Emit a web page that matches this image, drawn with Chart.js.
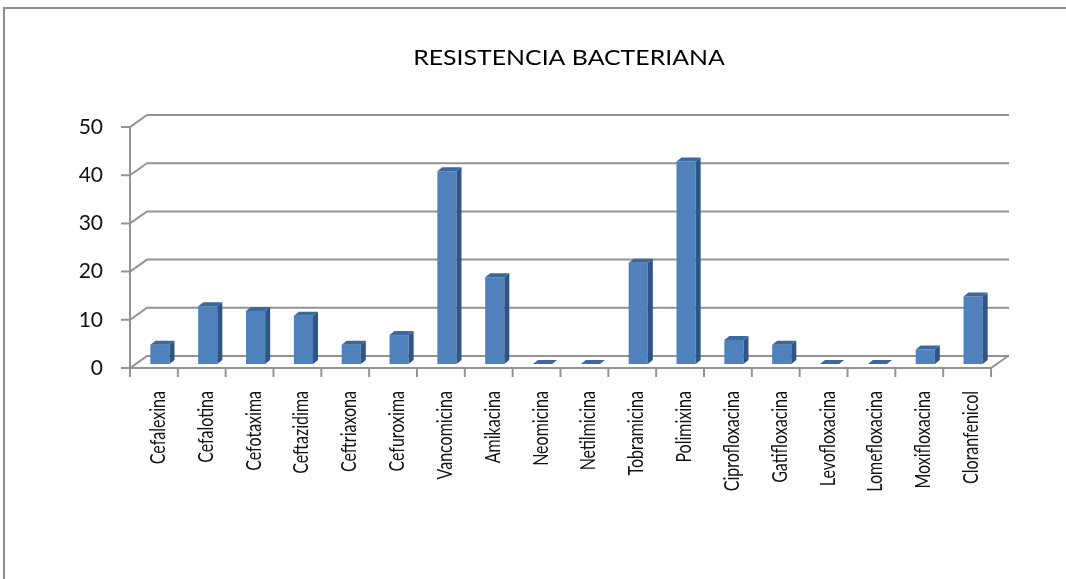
<!DOCTYPE html>
<html>
<head>
<meta charset="utf-8">
<script src="https://cdn.jsdelivr.net/npm/chart.js@4.4.0/dist/chart.umd.min.js"></script>
<style>
    html, body { margin: 0; padding: 0; background: #fff; }
    #wrap { width: 1066px; height: 579px; }
</style>
</head>
<body>
<div id="wrap"><canvas id="chart"></canvas></div>
<script>
const categories = [
    'Cefalexina', 'Cefalotina', 'Cefotaxima', 'Ceftazidima', 'Ceftriaxona', 'Cefuroxima',
    'Vancomicina', 'Amikacina', 'Neomicina', 'Netilmicina', 'Tobramicina', 'Polimixina',
    'Ciprofloxacina', 'Gatifloxacina', 'Levofloxacina', 'Lomefloxacina', 'Moxifloxacina', 'Cloranfenicol',
];
const resistance = [4, 12, 11, 10, 4, 6, 40, 18, 0, 0, 21, 42, 5, 4, 0, 0, 3, 14];
const yTicks = [0, 10, 20, 30, 40, 50];
const titleText = 'RESISTENCIA BACTERIANA';

// fake 3D look, like the old office chart
const wallOffset = { x: 17, y: -12 };
const barShift = { x: 6, y: -4 };
const barDepth = { x: 5, y: -4 };
const lineColor = '#939393';

const frame3d = {
    id: 'frame3d',
    beforeDraw(chart) {
        const { ctx, chartArea } = chart;
        ctx.save();
        ctx.fillStyle = '#fff';
        ctx.fillRect(0, 0, chart.width, chart.height);
        // outer frame (only left and top show in the picture)
        ctx.strokeStyle = '#8c8c8c';
        ctx.lineWidth = 2;
        ctx.beginPath();
        ctx.moveTo(4, chart.height);
        ctx.lineTo(4, 8);
        ctx.lineTo(chart.width, 8);
        ctx.stroke();
        // title, a bit wide like the source
        ctx.fillStyle = '#000';
        ctx.font = '22px Lato';
        ctx.textAlign = 'center';
        ctx.textBaseline = 'middle';
        ctx.translate((chartArea.left + chartArea.right + wallOffset.x) / 2, 58);
        ctx.scale(1.13, 1);
        ctx.fillText(titleText, 0, 0);
        ctx.restore();
    },
    beforeDatasetsDraw(chart) {
        const { ctx, chartArea, scales } = chart;
        const { left, right } = chartArea;
        const y = scales.y;
        const x = scales.x;
        const y0 = y.getPixelForValue(0);
        ctx.save();
        ctx.strokeStyle = lineColor;
        ctx.lineWidth = 2;
        ctx.lineCap = 'square';
        ctx.beginPath();
        yTicks.forEach((v) => {
            const py = y.getPixelForValue(v);
            ctx.moveTo(left, py);
            ctx.lineTo(left + wallOffset.x, py + wallOffset.y);
            ctx.lineTo(right + wallOffset.x, py + wallOffset.y);
            ctx.moveTo(left - 8, py);
            ctx.lineTo(left, py);
        });
        ctx.moveTo(right, y0);
        ctx.lineTo(right + wallOffset.x, y0 + wallOffset.y);
        ctx.moveTo(left, y.getPixelForValue(50));
        ctx.lineTo(left, y0);
        ctx.lineTo(right, y0);
        const step = (right - left) / categories.length;
        for (let i = 0; i <= categories.length; i++) {
            const px = left + i * step;
            ctx.moveTo(px, y0);
            ctx.lineTo(px, y0 + 8);
        }
        ctx.stroke();

        // category labels, vertical and a little stretched sideways
        ctx.fillStyle = '#111';
        ctx.font = '16px Lato';
        ctx.textAlign = 'right';
        ctx.textBaseline = 'middle';
        categories.forEach((name, i) => {
            ctx.save();
            ctx.translate(x.getPixelForValue(i) + 4, y0 + 23);
            ctx.rotate(-Math.PI / 2);
            ctx.scale(1, 1.35);
            ctx.fillText(name, 0, 0);
            ctx.restore();
        });
        ctx.restore();

        ctx.save();
        ctx.translate(barShift.x, barShift.y);
    },
    afterDatasetsDraw(chart) {
        const { ctx } = chart;
        const meta = chart.getDatasetMeta(0);
        meta.data.forEach((bar) => {
            const { x, y, base, width } = bar.getProps(['x', 'y', 'base', 'width'], true);
            const l = x - width / 2;
            const r = x + width / 2;
            ctx.fillStyle = '#2f5486';
            ctx.beginPath();
            ctx.moveTo(r, base);
            ctx.lineTo(r, y);
            ctx.lineTo(r + barDepth.x, y + barDepth.y);
            ctx.lineTo(r + barDepth.x, base + barDepth.y);
            ctx.closePath();
            ctx.fill();
            ctx.fillStyle = '#3d679d';
            ctx.beginPath();
            ctx.moveTo(l, y);
            ctx.lineTo(r, y);
            ctx.lineTo(r + barDepth.x, y + barDepth.y);
            ctx.lineTo(l + barDepth.x, y + barDepth.y);
            ctx.closePath();
            ctx.fill();
        });
        ctx.restore();
    },
};

new Chart(document.getElementById('chart'), {
    type: 'bar',
    data: {
        labels: categories,
        datasets: [
            {
                label: 'Resistencia',
                data: resistance,
                backgroundColor: '#4f81bd',
                borderWidth: 0,
                categoryPercentage: 1,
                barPercentage: 0.4,
            },
        ],
    },
    options: {
        responsive: true,
        maintainAspectRatio: false,
        animation: false,
        layout: { padding: { top: 127, right: 75, bottom: 0, left: 0 } },
        plugins: {
            legend: { display: false },
            title: { display: false },
            tooltip: { enabled: false },
        },
        scales: {
            x: {
                grid: { display: false, drawTicks: false },
                border: { display: false },
                ticks: { display: false },
                afterFit(scale) { scale.height = 211; },
            },
            y: {
                min: 0,
                max: 50,
                grid: { display: false, drawTicks: false },
                border: { display: false },
                ticks: {
                    stepSize: 10,
                    padding: 27,
                    color: '#111',
                    font: { family: 'Lato', size: 21 },
                },
                afterFit(scale) { scale.width = 130; },
            },
        },
    },
    plugins: [frame3d],
});
</script>
</body>
</html>
